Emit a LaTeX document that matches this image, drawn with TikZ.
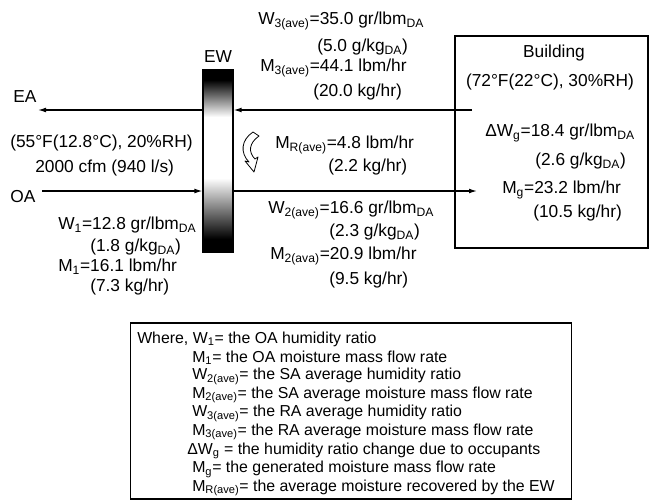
\documentclass[tikz,border=0pt]{standalone}
\usepackage{fontspec}
\setmainfont{Liberation Sans}
\usetikzlibrary{arrows.meta}
\newcommand{\sbs}[1]{\textsubscript{#1}}
\begin{document}
\begin{tikzpicture}[x=0.75pt,y=-0.75pt,
  lbl/.style={inner sep=0pt, anchor=west, font=\fontsize{13}{15}\selectfont},
  clbl/.style={inner sep=0pt, anchor=center, font=\fontsize{13}{15}\selectfont},
  leg/.style={inner sep=0pt, anchor=west, font=\fontsize{11.9}{13}\selectfont},
  flow/.style={line width=0.9pt, -{Latex[length=6pt,width=3.6pt]}},
  box/.style={draw, line width=0.8pt, inner sep=0pt}]
\useasboundingbox (0,0) rectangle (649,500);

% energy wheel shading (drawn as thin strips)
\fill[black] (203,70) rectangle (233,81);
\foreach \i in {0,...,37} {
  \pgfmathsetmacro\p{100-\i*100/37}
  \fill[black!\p] (203,80+\i) rectangle (233,81.3+\i);
}
\foreach \i in {0,...,61} {
  \pgfmathsetmacro\q{\i*100/61}
  \fill[black!\q] (203,178+\i) rectangle (233,179.3+\i);
}
\fill[black] (203,239) rectangle (233,252);
\node[box, minimum width=22.5pt, minimum height=136.5pt] (ew) at (218,161) {};
\node[clbl] (ewl) at (218,57) {EW};

% building
\node[box, minimum width=144.75pt, minimum height=159pt] (bldg) at (551.5,142) {};
\node[clbl] (b1) at (554,53) {Building};
\node[clbl] (b2) at (550,82) {(72°F(22°C), 30\%RH)};
\node[lbl] (b3) at (485,133) {ΔW\sbs{g}=18.4 gr/lbm\sbs{DA}};
\node[lbl] (b4) at (535,161) {(2.6 g/kg\sbs{DA})};
\node[lbl] (b5) at (502,190) {M\sbs{g}=23.2 lbm/hr};
\node[lbl] (b6) at (533,213) {(10.5 kg/hr)};

% flows
\coordinate (raStart) at (472,110);
\coordinate (eaEnd) at (38,110);
\coordinate (oaStart) at (42,191);
\coordinate (saEnd) at (477,191);
\draw[flow] (raStart) -- (ew.east |- raStart);
\draw[flow] (ew.west |- raStart) -- (eaEnd);
\draw[flow] (oaStart) -- (ew.west |- oaStart);
\draw[flow] (ew.east |- oaStart) -- (saEnd);

\node[lbl] (ea) at (13,97) {EA};
\node[lbl] (oa) at (10,197) {OA};

% recovery curved arrow
\draw[line width=0.6pt, fill=white, line join=round]
  (253,132) -- (259,136) .. controls (249,143) and (248,152) .. (255,159)
  -- (258,157) -- (254,172) -- (245,161) -- (249,162)
  .. controls (240,153) and (241,140) .. (253,132) -- cycle;

% return air texts
\node[lbl] (w3) at (258,21) {W\sbs{3(ave)}=35.0 gr/lbm\sbs{DA}};
\node[lbl] (w3b) at (317,47) {(5.0 g/kg\sbs{DA})};
\node[lbl] (m3) at (260,68) {M\sbs{3(ave)}=44.1 lbm/hr};
\node[lbl] (m3b) at (313,92) {(20.0 kg/hr)};

% outside air texts
\node[lbl] (oa1) at (10,143) {(55°F(12.8°C), 20\%RH)};
\node[lbl] (oa2) at (35,168) {2000 cfm (940 l/s)};
\node[lbl] (w1) at (58,225) {W\sbs{1}=12.8 gr/lbm\sbs{DA}};
\node[lbl] (w1b) at (90,247) {(1.8 g/kg\sbs{DA})};
\node[lbl] (m1) at (58,267) {M\sbs{1}=16.1 lbm/hr};
\node[lbl] (m1b) at (90,287) {(7.3 kg/hr)};

% recovered
\node[lbl] (mr) at (275,145) {M\sbs{R(ave)}=4.8 lbm/hr};
\node[lbl] (mrb) at (328,167) {(2.2 kg/hr)};

% supply air texts
\node[lbl] (w2) at (268,210) {W\sbs{2(ave)}=16.6 gr/lbm\sbs{DA}};
\node[lbl] (w2b) at (329,232) {(2.3 g/kg\sbs{DA})};
\node[lbl] (m2) at (270,256) {M\sbs{2(ava)}=20.9 lbm/hr};
\node[lbl] (m2b) at (329,280) {(9.5 kg/hr)};

% legend
\node[box, minimum width=330.75pt, minimum height=132pt] (legend) at (351,411) {};
\node[leg] (l1) at (137,339) {Where, W\sbs{1}= the OA humidity ratio};
\node[leg] (l2) at (192,357.6) {M\sbs{1}= the OA moisture mass flow rate};
\node[leg] (l3) at (192,376.2) {W\sbs{2(ave)}= the SA average humidity ratio};
\node[leg] (l4) at (192,394.8) {M\sbs{2(ave)}= the SA average moisture mass flow rate};
\node[leg] (l5) at (192,413.4) {W\sbs{3(ave)}= the RA average humidity ratio};
\node[leg] (l6) at (192,432) {M\sbs{3(ave)}= the RA average moisture mass flow rate};
\node[leg] (l7) at (187,450.6) {ΔW\sbs{g} = the humidity ratio change due to occupants};
\node[leg] (l8) at (192,469.2) {M\sbs{g}= the generated moisture mass flow rate};
\node[leg] (l9) at (192,487.8) {M\sbs{R(ave)}= the average moisture recovered by the EW};
\end{tikzpicture}
\end{document}
